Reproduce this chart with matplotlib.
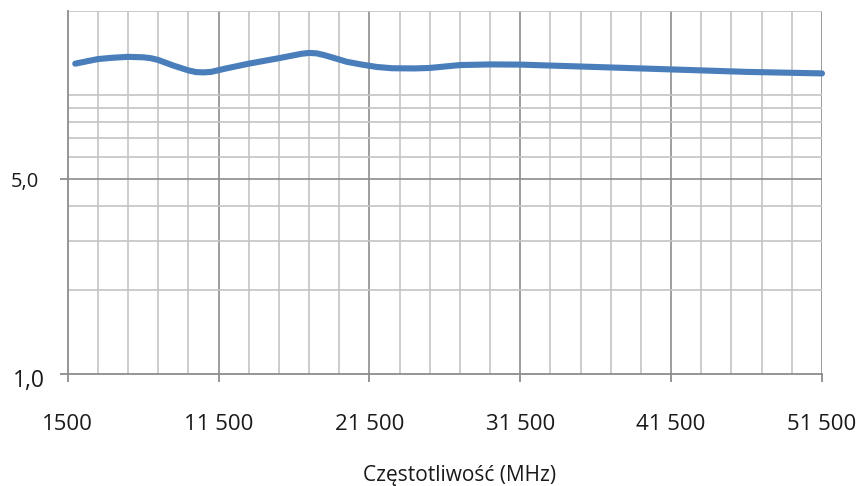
import numpy as np
import matplotlib.pyplot as plt
from matplotlib.ticker import FixedLocator, NullFormatter

plt.rcParams['font.family'] = ['Open Sans', 'DejaVu Sans']

# dane
freq = [2000, 3500, 4500, 5500, 6500, 7000, 7500, 8500, 9500, 10000, 10500, 11000,
        12000, 13500, 15500, 17000, 17500, 18000, 18500, 19000, 19500, 20000,
        21000, 22000, 23000, 24500, 25500, 26500, 27500, 29500, 31500, 36500, 41500,
        46500, 51500]
gain = [12.95, 13.45, 13.6, 13.7, 13.65, 13.55, 13.35, 12.75, 12.25, 12.08, 12.05, 12.1,
        12.45, 12.95, 13.55, 14.05, 14.15, 14.1, 13.9, 13.65, 13.4, 13.15,
        12.85, 12.6, 12.47, 12.45, 12.5, 12.65, 12.8, 12.87, 12.85, 12.6, 12.35,
        12.1, 11.95]

x_major = [1500, 11500, 21500, 31500, 41500, 51500]
x_major_labels = ['1500', '11 500', '21 500', '31 500', '41 500', '51 500']
x_minor = np.arange(3500, 51500, 2000)
y_major = [1, 5]
y_major_labels = ['1,0', '5,0']
y_minor = [2, 3, 4, 6, 7, 8, 9, 10, 20]

fig = plt.figure(figsize=(8.66, 4.86), dpi=100)
ax = fig.add_axes([67.7 / 866, 1 - 374 / 486, (822 - 67.7) / 866, (374 - 11) / 486])

ax.set_yscale('log')
ax.set_xlim(1500, 51500)
ax.set_ylim(1, 20)

# siatka
light = '#c4c4c4'
dark = '#8c8c8c'
for xv in x_minor:
    if xv not in x_major:
        ax.axvline(xv, color=light, lw=1.2, zorder=1)
for xv in x_major[1:]:
    ax.axvline(xv, color=dark, lw=1.2, zorder=1)
for yv in y_minor:
    ax.axhline(yv, color=light, lw=1.2, zorder=1)
ax.axhline(5, color=dark, lw=1.2, zorder=1)

ax.plot(freq, gain, color='#4a7ebb', lw=4.4, solid_capstyle='round',
        solid_joinstyle='round', clip_on=False, zorder=3)

for s in ['top', 'right']:
    ax.spines[s].set_visible(False)
for s in ['left', 'bottom']:
    ax.spines[s].set_color(dark)
    ax.spines[s].set_linewidth(1.3)

ax.xaxis.set_major_locator(FixedLocator(x_major))
ax.set_xticklabels(x_major_labels)
ax.xaxis.set_minor_locator(FixedLocator([]))
ax.yaxis.set_major_locator(FixedLocator(y_major))
ax.yaxis.set_minor_locator(FixedLocator([]))
ax.yaxis.set_minor_formatter(NullFormatter())
ax.set_yticklabels([])

ax.tick_params(axis='x', which='major', length=5.5, width=1.3, color=dark,
               pad=23, labelsize=16, labelcolor='#1a1a1a')
ax.tick_params(axis='y', which='major', length=5.5, width=1.3, color=dark)

# etykiety osi Y (różne rozmiary jak na oryginale)
ylab_size = [16.5, 14.5]
ylab_off = [(-16.5, -5.0), (-21.0, -2.5)]
for yv, lab, fs, off in zip(y_major, y_major_labels, ylab_size, ylab_off):
    ax.annotate(lab, xy=(0, yv), xycoords=('axes fraction', 'data'),
                xytext=off, textcoords='offset points', ha='right', va='center',
                fontsize=fs, color='#1a1a1a', annotation_clip=False)

fig.text(460 / 866, 1 - 475 / 486, 'Częstotliwość (MHz)', ha='center', va='center',
         fontsize=15, color='#1a1a1a')

fig.savefig('out.png', dpi=100)
